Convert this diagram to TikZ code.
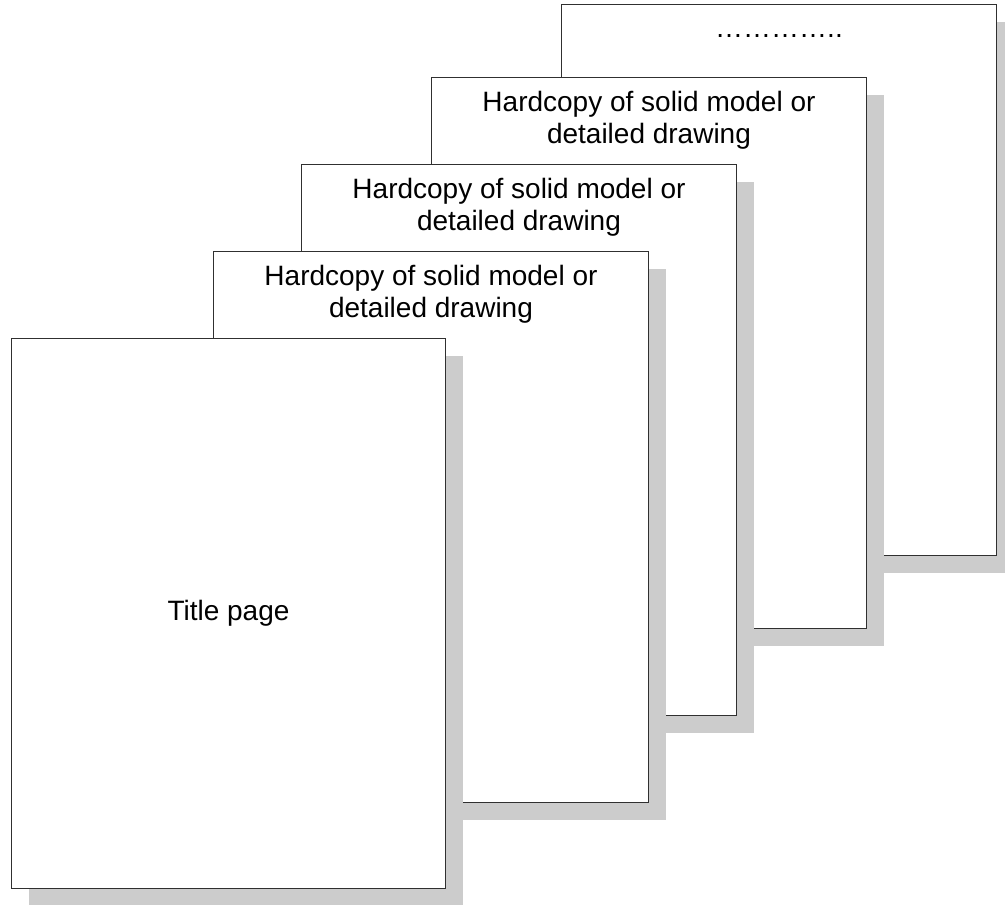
\documentclass[tikz,border=0pt]{standalone}
\usepackage{fontspec}
\setmainfont{Liberation Sans}
\usetikzlibrary{shadows}
\definecolor{shadowgray}{HTML}{CCCCCC}
\definecolor{edgegray}{HTML}{303030}
\begin{document}
\begin{tikzpicture}[x=1pt,y=-1pt,
  pagebox/.style={draw=edgegray, line width=1pt, fill=white, anchor=north west,
    minimum width=435pt, minimum height=551pt, inner sep=0pt,
    drop shadow={shadow xshift=17.5pt, shadow yshift=-17.5pt, fill=shadowgray, opacity=1}},
  pagetext/.style={font=\fontsize{28}{32}\selectfont, align=center, inner sep=0pt, anchor=north}
]
\useasboundingbox (0,0) rectangle (1005,905);
% back to front
\node[pagebox] (p5) at (561,4) {};
\node[anchor=base, inner sep=0pt, font=\fontsize{28}{32}\selectfont] (t5) at ([yshift=-33pt]p5.north) {…………..};
\node[pagebox] (p4) at (431,77) {};
\node[pagetext] (t4) at ([yshift=-14pt]p4.north) {Hardcopy of solid model or\\detailed drawing};
\node[pagebox] (p3) at (301,164) {};
\node[pagetext] (t3) at ([yshift=-14pt]p3.north) {Hardcopy of solid model or\\detailed drawing};
\node[pagebox] (p2) at (213,251) {};
\node[pagetext] (t2) at ([yshift=-14pt]p2.north) {Hardcopy of solid model or\\detailed drawing};
\node[pagebox, minimum width=434pt, minimum height=550pt] (p1) at (11,338) {};
\node[inner sep=0pt, font=\fontsize{28}{32}\selectfont] (t1) at (p1.center) {Title page};
\end{tikzpicture}
\end{document}
